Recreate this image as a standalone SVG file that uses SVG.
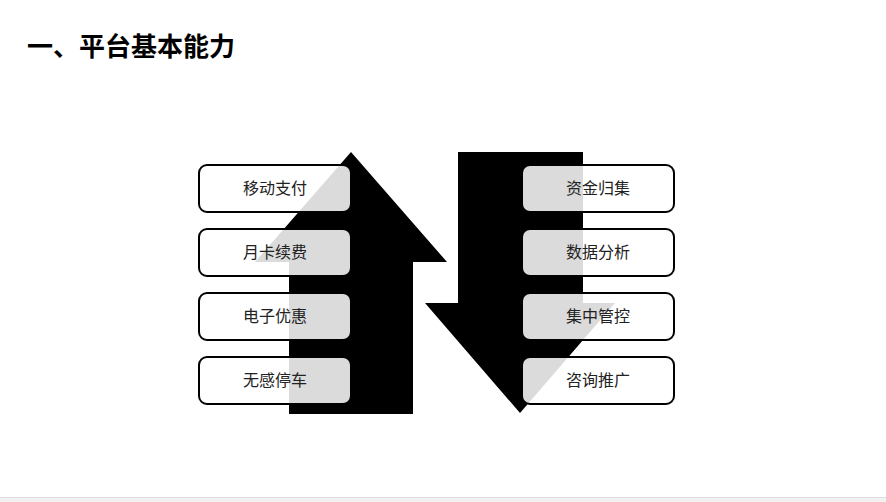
<svg xmlns="http://www.w3.org/2000/svg" width="886" height="502" viewBox="0 0 886 502">
<style>
.box{fill:#fff;fill-opacity:0.86;stroke:#000;stroke-width:2}
.lbl{font-family:"Noto Sans CJK SC","Noto Sans",sans-serif;font-size:16px;fill:#222;text-anchor:middle}
.title{font-family:"Noto Sans CJK SC","Noto Sans",sans-serif;font-size:26px;font-weight:bold;fill:#000}
</style>
<rect x="0" y="0" width="886" height="502" fill="#fff"/>
<rect x="0" y="497" width="886" height="5" fill="#f2f2f2"/>
<line x1="0" y1="497.5" x2="886" y2="497.5" stroke="#dcdcdc" stroke-width="1"/>
<text class="title" x="27" y="56">一、平台基本能力</text>
<g id="connectors">
<polygon id="arrow-up" points="351,152 447,262 413,262 413,414 289,414 289,262 255,262" fill="#000"/>
<polygon id="arrow-down" points="458,152 583,152 583,303 615,303 520,413 425,303 458,303" fill="#000"/>
</g>
<g id="n1"><rect class="box" x="199" y="165" width="152" height="47" rx="8"/><text class="lbl" x="275" y="194">移动支付</text></g>
<g id="n2"><rect class="box" x="199" y="229" width="152" height="47" rx="8"/><text class="lbl" x="275" y="258">月卡续费</text></g>
<g id="n3"><rect class="box" x="199" y="293" width="152" height="47" rx="8"/><text class="lbl" x="275" y="322">电子优惠</text></g>
<g id="n4"><rect class="box" x="199" y="357" width="152" height="47" rx="8"/><text class="lbl" x="275" y="386">无感停车</text></g>
<g id="n5"><rect class="box" x="522" y="165" width="152" height="47" rx="8"/><text class="lbl" x="598" y="194">资金归集</text></g>
<g id="n6"><rect class="box" x="522" y="229" width="152" height="47" rx="8"/><text class="lbl" x="598" y="258">数据分析</text></g>
<g id="n7"><rect class="box" x="522" y="293" width="152" height="47" rx="8"/><text class="lbl" x="598" y="322">集中管控</text></g>
<g id="n8"><rect class="box" x="522" y="357" width="152" height="47" rx="8"/><text class="lbl" x="598" y="386">咨询推广</text></g>
</svg>
